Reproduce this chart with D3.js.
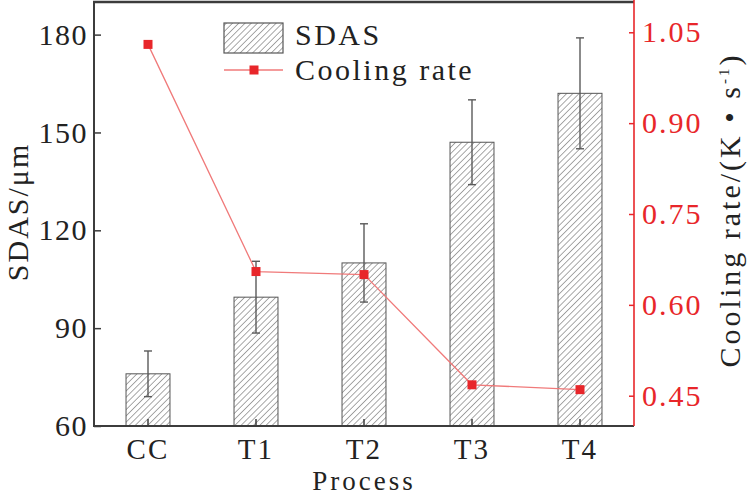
<!DOCTYPE html>
<html>
<head>
<meta charset="utf-8">
<script src="https://cdn.jsdelivr.net/npm/d3@7/dist/d3.min.js"></script>
<style>
html,body{margin:0;padding:0;background:#fff;}
svg{display:block;}
text{font-family:"Liberation Serif","Times New Roman",serif;}
</style>
</head>
<body>
<svg id="chart" width="750" height="496"></svg>
<script>
// ---- data ----
const categories = ["CC", "T1", "T2", "T3", "T4"];
const sdas = [76, 99.5, 110, 147, 162];
const sdasErr = [7, 11, 12, 13, 17];
const coolingRate = [1.03, 0.655, 0.65, 0.468, 0.46];
const leftTicks = [60, 90, 120, 150, 180];
const rightTicks = [0.45, 0.60, 0.75, 0.90, 1.05];

const svg = d3.select("#chart");
const L = 94, R = 634, T = 2, B = 426;
const axisColor = "#3c3c3c";
const red = "#e8262a";

const x = d3.scaleBand().domain(categories).range([L, R]).paddingInner(0).paddingOuter(0);
const yL = d3.scaleLinear().domain([60, 190]).range([B, T]);
const yR = d3.scaleLinear().domain([0.40, 1.10]).range([B, T]);
const barW = x.bandwidth() * 0.407;
const cx = d => x(d) + x.bandwidth() / 2;

// hatch pattern
const defs = svg.append("defs");
const pat = defs.append("pattern").attr("id", "hatch")
  .attr("patternUnits", "userSpaceOnUse").attr("width", 4.4).attr("height", 4.4)
  .attr("patternTransform", "rotate(45)");
pat.append("rect").attr("width", 4.4).attr("height", 4.4).attr("fill", "#fff");
pat.append("line").attr("x1", 0).attr("y1", 0).attr("x2", 0).attr("y2", 4.4)
  .attr("stroke", "#7a7a7a").attr("stroke-width", 1.3);

// bars
svg.append("g").selectAll("rect").data(categories).join("rect")
  .attr("x", d => cx(d) - barW / 2)
  .attr("y", (d, i) => yL(sdas[i]))
  .attr("width", barW)
  .attr("height", (d, i) => yL(60) - yL(sdas[i]))
  .attr("fill", "url(#hatch)")
  .attr("stroke", "#555").attr("stroke-width", 1);

// error bars
const eb = svg.append("g").attr("stroke", "#5a5a5a").attr("stroke-width", 1.4).attr("fill", "none");
categories.forEach((c, i) => {
  const xc = cx(c), hi = yL(sdas[i] + sdasErr[i]), lo = yL(sdas[i] - sdasErr[i]);
  eb.append("line").attr("x1", xc).attr("x2", xc).attr("y1", hi).attr("y2", lo);
  eb.append("line").attr("x1", xc - 4).attr("x2", xc + 4).attr("y1", hi).attr("y2", hi);
  eb.append("line").attr("x1", xc - 4).attr("x2", xc + 4).attr("y1", lo).attr("y2", lo);
});

// axes
const fontSize = 30;
const gL = svg.append("g").attr("transform", `translate(${L},0)`)
  .call(d3.axisLeft(yL).tickValues(leftTicks).tickSizeInner(-7).tickSizeOuter(0).tickPadding(6).tickFormat(d3.format("d")));
gL.select(".domain").remove();
gL.selectAll("line").attr("stroke", axisColor).attr("stroke-width", 1.5);
gL.selectAll("text").attr("font-size", fontSize).attr("fill", "#222").attr("dy", "0.32em")
  .attr("font-family", "Liberation Serif").attr("letter-spacing", 1.5);

const gB = svg.append("g").attr("transform", `translate(0,${B})`)
  .call(d3.axisBottom(x).tickSizeInner(-7).tickSizeOuter(0).tickPadding(12));
gB.select(".domain").remove();
gB.selectAll("line").attr("stroke", axisColor).attr("stroke-width", 1.5);
gB.selectAll("text").attr("font-size", 29).attr("fill", "#222")
  .attr("font-family", "Liberation Serif").attr("letter-spacing", 2.2).attr("dy", "0.71em");

const gR = svg.append("g").attr("transform", `translate(${R},0)`)
  .call(d3.axisRight(yR).tickValues(rightTicks).tickSizeInner(-5).tickSizeOuter(0).tickPadding(8).tickFormat(d3.format(".2f")));
gR.select(".domain").remove();
gR.selectAll("line").attr("stroke", red).attr("stroke-width", 1.5);
gR.selectAll("text").attr("font-size", fontSize).attr("fill", red).attr("dy", "0.32em")
  .attr("font-family", "Liberation Serif").attr("letter-spacing", 2);

// frame lines
svg.append("line").attr("x1", L).attr("x2", L).attr("y1", T).attr("y2", B + 1)
  .attr("stroke", axisColor).attr("stroke-width", 2);
svg.append("line").attr("x1", L - 1).attr("x2", R).attr("y1", B).attr("y2", B)
  .attr("stroke", axisColor).attr("stroke-width", 2);
svg.append("line").attr("x1", L - 1).attr("x2", R).attr("y1", T).attr("y2", T)
  .attr("stroke", axisColor).attr("stroke-width", 2.5);
svg.append("line").attr("x1", R).attr("x2", R).attr("y1", 0).attr("y2", B)
  .attr("stroke", red).attr("stroke-width", 1.6);

// cooling rate line
const line = d3.line().x((d, i) => cx(categories[i])).y(d => yR(d));
svg.append("path").datum(coolingRate).attr("d", line)
  .attr("fill", "none").attr("stroke", "#f07a7a").attr("stroke-width", 1.3);
svg.append("g").selectAll("rect").data(coolingRate).join("rect")
  .attr("x", (d, i) => cx(categories[i]) - 4.5)
  .attr("y", d => yR(d) - 4.5)
  .attr("width", 9).attr("height", 9).attr("fill", red);

// axis titles
svg.append("text").attr("transform", "translate(28,212) rotate(-90)")
  .attr("text-anchor", "middle").attr("font-size", fontSize).attr("fill", "#222")
  .attr("letter-spacing", 2).text("SDAS/μm");

const rt = svg.append("text").attr("transform", "translate(740,210) rotate(-90)")
  .attr("text-anchor", "middle").attr("font-size", 30).attr("fill", "#222")
  .attr("letter-spacing", 3);
rt.append("tspan").text("Cooling rate/(K \u2022 s");
rt.append("tspan").attr("font-size", 15).attr("baseline-shift", "75%").text("-1");
rt.append("tspan").text(")");

svg.append("text").attr("x", 364).attr("y", 490).attr("text-anchor", "middle")
  .attr("font-size", 27).attr("fill", "#222").attr("letter-spacing", 3).text("Process");

// legend
svg.append("rect").attr("x", 224).attr("y", 23).attr("width", 59).attr("height", 30)
  .attr("fill", "url(#hatch)").attr("stroke", "#555").attr("stroke-width", 1.2);
svg.append("text").attr("x", 295).attr("y", 45).attr("font-size", fontSize).attr("fill", "#222")
  .attr("letter-spacing", 2.5).text("SDAS");
svg.append("line").attr("x1", 224).attr("x2", 283).attr("y1", 70).attr("y2", 70)
  .attr("stroke", "#f07a7a").attr("stroke-width", 1.3);
svg.append("rect").attr("x", 249.5).attr("y", 65.5).attr("width", 9).attr("height", 9).attr("fill", red);
svg.append("text").attr("x", 295).attr("y", 80).attr("font-size", fontSize).attr("fill", "#222")
  .attr("letter-spacing", 2.5).text("Cooling rate");
</script>
</body>
</html>
